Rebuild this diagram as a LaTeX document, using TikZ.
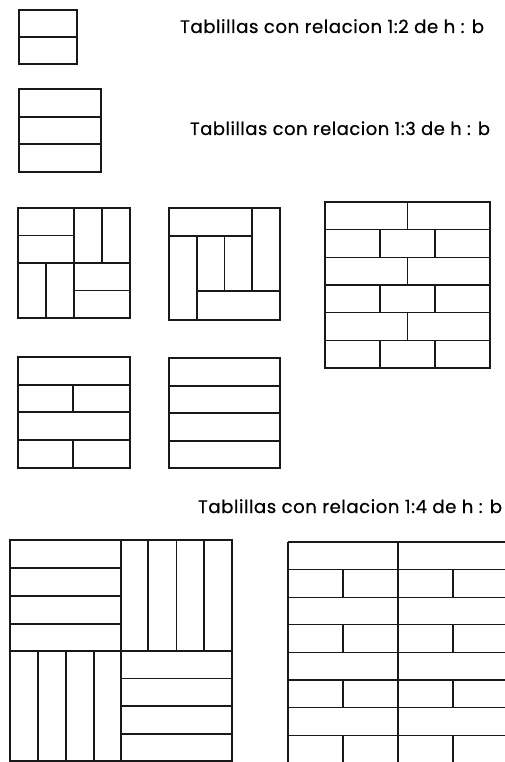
\documentclass[tikz,border=0pt]{standalone}
\usepackage{fontspec}
\usepackage{graphicx}
\newfontfamily\lblfont[LetterSpace=3,FakeBold=0.6]{Poppins}
\tikzset{
  tile/.style={draw=black!90, line width=1.3pt},
  ln/.style={draw=black!90, line width=1.3pt},
  lbl/.style={anchor=base west, inner sep=0pt, outer sep=0pt}
}
\newcommand{\lbltext}[2]{\resizebox{#1pt}{!}{\lblfont #2}}
\begin{document}
\begin{tikzpicture}[x=1pt,y=-1pt]
\useasboundingbox[fill=white] (0,0) rectangle (505,762);
% labels
\node[lbl] (t1) at (180,33) {\lbltext{304}{Tablillas con relacion 1:2 de h : b}};
\node[lbl] (t2) at (190,135) {\lbltext{300}{Tablillas con relacion 1:3 de h : b}};
\node[lbl] (t3) at (198,513) {\lbltext{304}{Tablillas con relacion 1:4 de h : b}};
% box 1 (1:2)
\draw[tile] (19,10) rectangle (77,64);
\draw[ln] (19,37) -- (77,37);
% box 2 (1:3)
\draw[tile] (19,89) rectangle (101,172);
\draw[ln] (19,117) -- (101,117);
\draw[ln] (19,144) -- (101,144);
% box A pinwheel 1:2
\draw[tile] (18,208) rectangle (130,318);
\draw[ln] (74,208) -- (74,318);
\draw[ln] (18,263) -- (130,263);
\draw[ln] (18,235.5) -- (74,235.5);
\draw[ln] (102,208) -- (102,263);
\draw[ln] (46,263) -- (46,318);
\draw[ln] (74,290.5) -- (130,290.5);
% box B pinwheel 1:3
\draw[tile] (169,208) rectangle (280,320);
\draw[ln] (169,236) -- (252,236);
\draw[ln] (252,208) -- (252,291);
\draw[ln] (197,291) -- (280,291);
\draw[ln] (197,236) -- (197,320);
\draw[ln] (224.5,236) -- (224.5,291);
% box C brick 1:3
\draw[tile] (325,202) rectangle (490,368);
\foreach \y in {229.67,257.33,285,312.67,340.33} \draw[ln] (325,\y) -- (490,\y);
\foreach \y in {202,257.33,312.67} \draw[ln] (407.5,\y) -- (407.5,\y+27.67);
\foreach \y in {229.67,285,340.33} {\draw[ln] (380,\y) -- (380,\y+27.67); \draw[ln] (435,\y) -- (435,\y+27.67);}
% box D
\draw[tile] (18,357) rectangle (130,468);
\foreach \y in {385,412,440} \draw[ln] (18,\y) -- (130,\y);
\draw[ln] (73,385) -- (73,412);
\draw[ln] (73,440) -- (73,468);
% box E
\draw[tile] (169,358) rectangle (280,468);
\foreach \y in {386,413,441} \draw[ln] (169,\y) -- (280,\y);
% box F pinwheel 1:4
\draw[tile] (10,540) rectangle (232,761);
\draw[ln] (121,540) -- (121,761);
\draw[ln] (10,651) -- (232,651);
\foreach \y in {568,596,624} \draw[ln] (10,\y) -- (121,\y);
\foreach \x in {148,176.5,204} \draw[ln] (\x,540) -- (\x,651);
\foreach \x in {38,66,94} \draw[ln] (\x,651) -- (\x,761);
\foreach \y in {678.5,706,734} \draw[ln] (121,\y) -- (232,\y);
% box G brick 1:4 (clipped by page)
\begin{scope}
\clip (0,0) rectangle (505,762);
\draw[ln] (288,542) -- (288,770);
\draw[ln] (288,542) -- (510,542);
\foreach \y in {569.6,597.2,624.8,652.4,680,707.6,735.2} \draw[ln] (288,\y) -- (510,\y);
\foreach \y in {542,597.2,652.4,707.6} \draw[ln] (398,\y) -- (398,\y+27.6);
\foreach \y in {569.6,624.8,680,735.2} {\draw[ln] (343,\y) -- (343,\y+27.6); \draw[ln] (398,\y) -- (398,\y+27.6); \draw[ln] (453,\y) -- (453,\y+27.6);}
\end{scope}
\end{tikzpicture}
\end{document}
